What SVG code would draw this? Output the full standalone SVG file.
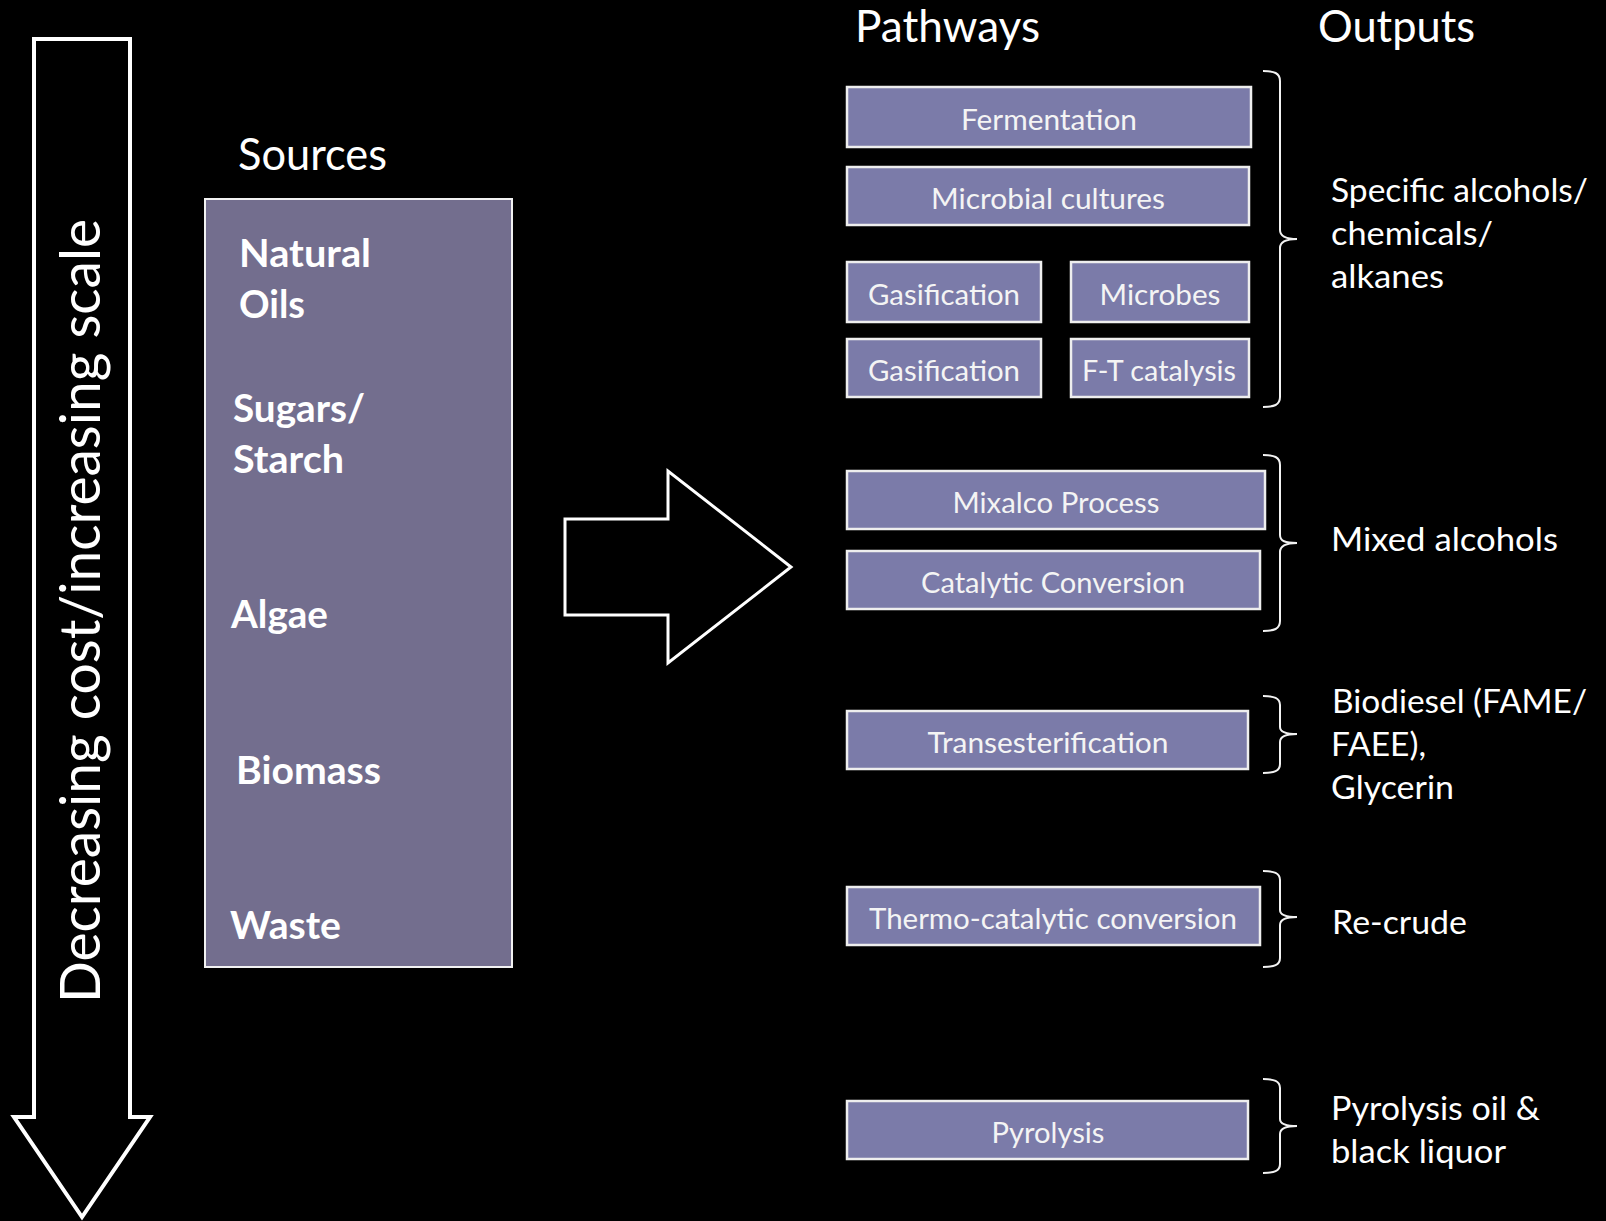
<svg xmlns="http://www.w3.org/2000/svg" width="1606" height="1221" viewBox="0 0 1606 1221">
<defs>
<style>
.bg{fill:#000}
.outline{fill:none;stroke:#ffffff;stroke-width:4;stroke-linejoin:miter}
.src{fill:#736e8e;stroke:#f2f2f2;stroke-width:2}
.pw{fill:#7b7ba9;stroke:#eeeeee;stroke-width:2.5}
.brace{fill:none;stroke:#f2f2f2;stroke-width:2}
.head{font-family:Lato,"Open Sans",sans-serif;font-size:44px;fill:#ffffff}
.side{font-family:Lato,"Open Sans",sans-serif;font-size:56px;fill:#ffffff}
.srcl{font-family:Lato,"Open Sans",sans-serif;font-size:39px;font-weight:bold;fill:#ffffff}
.pwt{font-family:Lato,"Open Sans",sans-serif;font-size:28px;fill:#f4f4f4;text-anchor:middle}
.out{font-family:Lato,"Open Sans",sans-serif;font-size:33px;fill:#ffffff}
</style>
</defs>
<rect class="bg" x="0" y="0" width="1606" height="1221"/>

<g id="scale-arrow">
<path class="outline" d="M34,39 L130,39 L130,1117 L150,1117 L82,1217 L14,1117 L34,1117 Z"/>
<text class="side" transform="translate(100,611) rotate(-90)" text-anchor="middle" textLength="784" lengthAdjust="spacingAndGlyphs">Decreasing cost/increasing scale</text>
</g>

<g id="sources">
<text class="head" x="238" y="170" textLength="149" lengthAdjust="spacingAndGlyphs">Sources</text>
<rect class="src" x="205" y="199" width="307" height="768"/>
<text class="srcl" x="239" y="267" textLength="132" lengthAdjust="spacingAndGlyphs">Natural</text>
<text class="srcl" x="239" y="318" textLength="66" lengthAdjust="spacingAndGlyphs">Oils</text>
<text class="srcl" x="233" y="422" textLength="132" lengthAdjust="spacingAndGlyphs">Sugars/</text>
<text class="srcl" x="233" y="473" textLength="111" lengthAdjust="spacingAndGlyphs">Starch</text>
<text class="srcl" x="231" y="628" textLength="97" lengthAdjust="spacingAndGlyphs">Algae</text>
<text class="srcl" x="236" y="784" textLength="145" lengthAdjust="spacingAndGlyphs">Biomass</text>
<text class="srcl" x="230" y="939" textLength="111" lengthAdjust="spacingAndGlyphs">Waste</text>
</g>

<g id="connectors">
<path class="outline" style="stroke-width:3" d="M565,519 L668,519 L668,471 L791,567 L668,663 L668,615 L565,615 Z"/>
<path class="brace" d="M1263,71 C1274,71 1280,73 1280,81 L1280,230 C1280,236 1285,239 1297,239 C1285,239 1280,242 1280,248 L1280,397 C1280,405 1274,407 1263,407"/>
<path class="brace" d="M1263,455 C1274,455 1280,457 1280,465 L1280,535 C1280,541 1285,543 1297,543 C1285,543 1280,546 1280,552 L1280,621 C1280,629 1274,631 1263,631"/>
<path class="brace" d="M1263,696 C1274,696 1280,698 1280,705 L1280,727 C1280,732 1285,734 1297,734 C1285,734 1280,737 1280,742 L1280,764 C1280,771 1274,773 1263,773"/>
<path class="brace" d="M1263,871 C1274,871 1280,873 1280,880 L1280,910 C1280,915 1285,917 1297,917 C1285,917 1280,920 1280,925 L1280,958 C1280,965 1274,967 1263,967"/>
<path class="brace" d="M1263,1079 C1274,1079 1280,1081 1280,1088 L1280,1119 C1280,1124 1285,1126 1297,1126 C1285,1126 1280,1129 1280,1134 L1280,1164 C1280,1171 1274,1173 1263,1173"/>
</g>

<g id="pathways">
<text class="head" x="855" y="42" textLength="185" lengthAdjust="spacingAndGlyphs">Pathways</text>
<g id="p-fermentation"><rect class="pw" x="847" y="87" width="404" height="60"/><text class="pwt" x="1049" y="130" textLength="176" lengthAdjust="spacingAndGlyphs">Fermentation</text></g>
<g id="p-microbial"><rect class="pw" x="847" y="167" width="402" height="58"/><text class="pwt" x="1048" y="209" textLength="234" lengthAdjust="spacingAndGlyphs">Microbial cultures</text></g>
<g id="p-gasification1"><rect class="pw" x="847" y="262" width="194" height="60"/><text class="pwt" x="944" y="305" textLength="152" lengthAdjust="spacingAndGlyphs">Gasification</text></g>
<g id="p-microbes"><rect class="pw" x="1071" y="262" width="178" height="60"/><text class="pwt" x="1160" y="305" textLength="121" lengthAdjust="spacingAndGlyphs">Microbes</text></g>
<g id="p-gasification2"><rect class="pw" x="847" y="339" width="194" height="58"/><text class="pwt" x="944" y="381" textLength="152" lengthAdjust="spacingAndGlyphs">Gasification</text></g>
<g id="p-ft"><rect class="pw" x="1071" y="339" width="178" height="58"/><text class="pwt" x="1159" y="381" textLength="154" lengthAdjust="spacingAndGlyphs">F-T catalysis</text></g>
<g id="p-mixalco"><rect class="pw" x="847" y="471" width="418" height="58"/><text class="pwt" x="1056" y="513" textLength="207" lengthAdjust="spacingAndGlyphs">Mixalco Process</text></g>
<g id="p-catalytic"><rect class="pw" x="847" y="551" width="413" height="58"/><text class="pwt" x="1053" y="593" textLength="264" lengthAdjust="spacingAndGlyphs">Catalytic Conversion</text></g>
<g id="p-trans"><rect class="pw" x="847" y="711" width="401" height="58"/><text class="pwt" x="1048" y="753" textLength="241" lengthAdjust="spacingAndGlyphs">Transesterification</text></g>
<g id="p-thermo"><rect class="pw" x="847" y="887" width="413" height="58"/><text class="pwt" x="1053" y="929" textLength="368" lengthAdjust="spacingAndGlyphs">Thermo-catalytic conversion</text></g>
<g id="p-pyrolysis"><rect class="pw" x="847" y="1101" width="401" height="58"/><text class="pwt" x="1048" y="1143" textLength="113" lengthAdjust="spacingAndGlyphs">Pyrolysis</text></g>
</g>

<g id="outputs">
<text class="head" x="1318" y="42" textLength="157" lengthAdjust="spacingAndGlyphs">Outputs</text>
<g id="o-specific">
<text class="out" x="1331" y="202" textLength="257" lengthAdjust="spacingAndGlyphs">Specific alcohols/</text>
<text class="out" x="1331" y="245" textLength="162" lengthAdjust="spacingAndGlyphs">chemicals/</text>
<text class="out" x="1331" y="288" textLength="113" lengthAdjust="spacingAndGlyphs">alkanes</text>
</g>
<g id="o-mixed"><text class="out" x="1331" y="551" textLength="227" lengthAdjust="spacingAndGlyphs">Mixed alcohols</text></g>
<g id="o-biodiesel">
<text class="out" x="1332" y="713" textLength="255" lengthAdjust="spacingAndGlyphs">Biodiesel (FAME/</text>
<text class="out" x="1331" y="756" textLength="95" lengthAdjust="spacingAndGlyphs">FAEE),</text>
<text class="out" x="1331" y="799" textLength="123" lengthAdjust="spacingAndGlyphs">Glycerin</text>
</g>
<g id="o-recrude"><text class="out" x="1332" y="934" textLength="135" lengthAdjust="spacingAndGlyphs">Re-crude</text></g>
<g id="o-pyrolysis">
<text class="out" x="1331" y="1120" textLength="209" lengthAdjust="spacingAndGlyphs">Pyrolysis oil &amp;</text>
<text class="out" x="1331" y="1163" textLength="175" lengthAdjust="spacingAndGlyphs">black liquor</text>
</g>
</g>
</svg>
